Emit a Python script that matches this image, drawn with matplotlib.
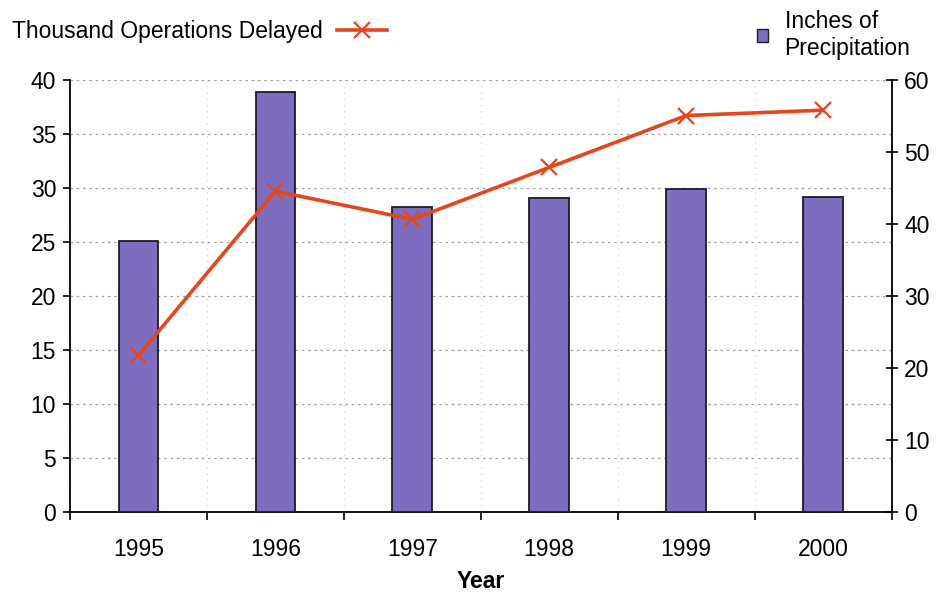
import matplotlib
matplotlib.use('Agg')
import matplotlib.pyplot as plt
from matplotlib.lines import Line2D
from matplotlib.patches import Patch

plt.rcParams['font.family'] = ['Liberation Sans', 'DejaVu Sans']

# data
years = ['1995', '1996', '1997', '1998', '1999', '2000']
delays = [14.5, 29.7, 27.1, 31.9, 36.7, 37.2]          # thousand operations (left axis)
precip = [37.7, 58.3, 42.4, 43.6, 44.9, 43.7]          # inches (right axis)
left_ticks = [0, 5, 10, 15, 20, 25, 30, 35, 40]
right_ticks = [0, 10, 20, 30, 40, 50, 60]

BAR_COLOR = '#7E6DBE'
LINE_COLOR = '#E5461C'
GRID_COLOR = '#A0A0A0'
FS = 16.5

fig = plt.figure(figsize=(9.41, 5.92), dpi=100)
ax = fig.add_axes([0.0744, 0.135, 0.873, 0.73])
ax2 = ax.twinx()   # bars, right scale
ax3 = ax.twinx()   # line, left scale, drawn on top

x = list(range(len(years)))

# bottom layer: grid + left axis
ax.set_xlim(-0.5, len(years) - 0.5)
ax.set_ylim(0, 40)
ax.set_yticks(left_ticks)
ax.set_xticks(x)
ax.set_xticklabels(years)
ax.set_xticks([i - 0.5 for i in range(len(years) + 1)], minor=True)
ax.tick_params(axis='x', which='major', length=0, pad=19, labelsize=FS)
ax.tick_params(axis='x', which='minor', length=5.5, width=1.2, direction='out')
ax.tick_params(axis='y', length=5, width=1.2, direction='out', labelsize=FS, pad=5)
ax.yaxis.grid(True, linestyle=(0, (2, 3)), color=GRID_COLOR, linewidth=0.9)
ax.xaxis.grid(True, which='minor', linestyle=(0, (1, 4)), color='#D4D4D4', linewidth=0.9)
ax.spines['top'].set_visible(False)
ax.spines['right'].set_visible(False)
ax.spines['left'].set_linewidth(1.3)
ax.spines['bottom'].set_linewidth(1.3)
ax.set_xlabel('Year', fontsize=FS, fontweight='bold', labelpad=6)

# bars on right axis
ax2.bar(x, precip, width=0.29, color=BAR_COLOR, edgecolor='#1A1A2A', linewidth=1.3)
ax2.set_ylim(0, 60)
ax2.set_yticks(right_ticks)
ax2.tick_params(axis='y', length=8, width=1.2, direction='inout', labelsize=FS, pad=5)
ax2.spines['top'].set_visible(False)
ax2.spines['left'].set_visible(False)
ax2.spines['bottom'].set_visible(False)
ax2.spines['right'].set_linewidth(1.3)

# line on left scale, on top
ax3.plot(x, delays, color=LINE_COLOR, linewidth=2.6, marker='x',
         markersize=12, markeredgewidth=1.6)
ax3.set_ylim(ax.get_ylim())
ax3.set_yticks([])
for s in ax3.spines.values():
    s.set_visible(False)

# legends
line_handle = Line2D([], [], color=LINE_COLOR, linewidth=2.6, marker='x',
                     markersize=12, markeredgewidth=1.6)
fig.legend(handles=[line_handle], labels=['Thousand Operations Delayed'],
           loc='center left', bbox_to_anchor=(0.0128, 0.946), frameon=False,
           markerfirst=False, fontsize=FS, handlelength=2.2, handletextpad=0.6,
           borderaxespad=0, borderpad=0)

bar_handle = Patch(facecolor=BAR_COLOR, edgecolor='#1A1A2A', linewidth=1.0)
fig.legend(handles=[bar_handle], labels=['Inches of\nPrecipitation'],
           loc='center left', bbox_to_anchor=(0.804, 0.941), frameon=False,
           fontsize=FS, handlelength=0.52, handleheight=0.52, handletextpad=0.7,
           borderaxespad=0, borderpad=0)

fig.savefig('out.png', dpi=100)
